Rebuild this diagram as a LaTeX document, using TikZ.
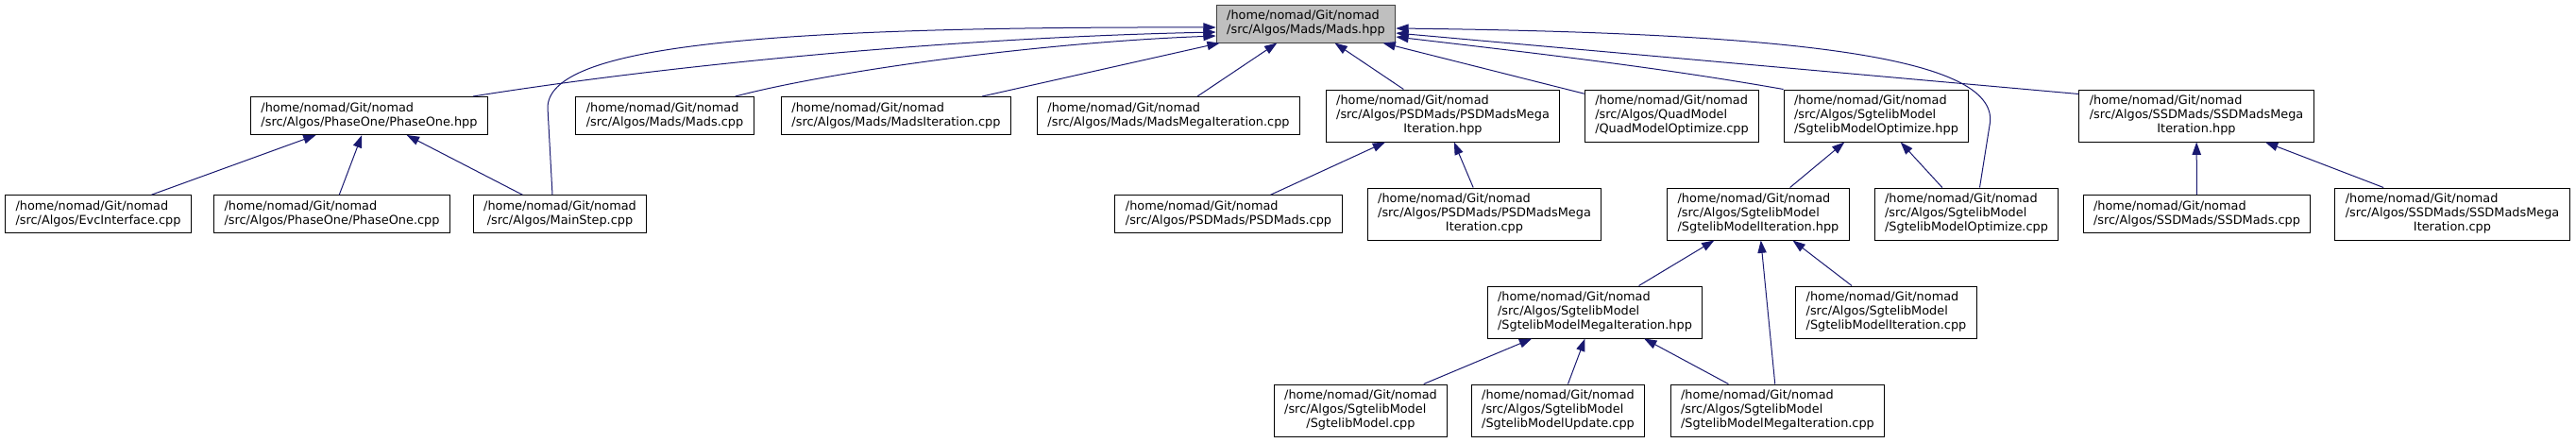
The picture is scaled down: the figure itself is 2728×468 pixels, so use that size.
\documentclass[tikz,border=0pt]{standalone}
\usepackage{fontspec}
\setmainfont{DejaVu Sans}
\usepackage{xcolor}
\usepackage{tikz}
\usetikzlibrary{arrows.meta,calc}
\definecolor{edgeblue}{HTML}{191970}
\definecolor{focusfill}{HTML}{BFBFBF}
\definecolor{focusline}{HTML}{404040}
% lines left, last line centred, as in the include graph
\newcommand{\flabel}[2]{\begin{tabular}{@{}l@{}}#1\\\multicolumn{1}{@{}c@{}}{#2}\end{tabular}}
\tikzset{
  file/.style={draw=black,fill=white,line width=0.75pt,rectangle,inner xsep=8.25pt,inner ysep=3.75pt,
    font=\fontsize{9.65}{11.25}\selectfont},
  focus/.style={file,draw=focusline,fill=focusfill},
  dep/.style={-{Triangle[length=10pt,width=7pt]},edgeblue,line width=0.75pt},
}
\begin{document}
\begin{tikzpicture}[x=0.75pt,y=-0.75pt]
\useasboundingbox (0,0) rectangle (2728,468);
\node[focus] (madshpp) at (1383,25) {\flabel{/home/nomad/Git/nomad}{/src/Algos/Mads/Mads.hpp}};
\node[file] (phaseonehpp) at (391,122.5) {\flabel{/home/nomad/Git/nomad}{/src/Algos/PhaseOne/PhaseOne.hpp}};
\node[file] (madscpp) at (704,122.5) {\flabel{/home/nomad/Git/nomad}{/src/Algos/Mads/Mads.cpp}};
\node[file] (madsitercpp) at (949,122.5) {\flabel{/home/nomad/Git/nomad}{/src/Algos/Mads/MadsIteration.cpp}};
\node[file] (madsmegaitercpp) at (1237.5,122.5) {\flabel{/home/nomad/Git/nomad}{/src/Algos/Mads/MadsMegaIteration.cpp}};
\node[file] (psdmegahpp) at (1528,122.5) {\flabel{/home/nomad/Git/nomad\\/src/Algos/PSDMads/PSDMadsMega}{Iteration.hpp}};
\node[file] (quadoptcpp) at (1770.5,122.5) {\flabel{/home/nomad/Git/nomad\\/src/Algos/QuadModel}{/QuadModelOptimize.cpp}};
\node[file] (sgtoptimizehpp) at (1987,122.5) {\flabel{/home/nomad/Git/nomad\\/src/Algos/SgtelibModel}{/SgtelibModelOptimize.hpp}};
\node[file] (ssdmegahpp) at (2326,122.5) {\flabel{/home/nomad/Git/nomad\\/src/Algos/SSDMads/SSDMadsMega}{Iteration.hpp}};
\node[file] (evccpp) at (104,226.7) {\flabel{/home/nomad/Git/nomad}{/src/Algos/EvcInterface.cpp}};
\node[file] (phaseonecpp) at (351.5,226.7) {\flabel{/home/nomad/Git/nomad}{/src/Algos/PhaseOne/PhaseOne.cpp}};
\node[file] (mainstepcpp) at (593,226.7) {\flabel{/home/nomad/Git/nomad}{/src/Algos/MainStep.cpp}};
\node[file] (psdmadscpp) at (1301,226.7) {\flabel{/home/nomad/Git/nomad}{/src/Algos/PSDMads/PSDMads.cpp}};
\node[file] (psdmegacpp) at (1572,226.5) {\flabel{/home/nomad/Git/nomad\\/src/Algos/PSDMads/PSDMadsMega}{Iteration.cpp}};
\node[file] (sgtiterhpp) at (1862,226.5) {\flabel{/home/nomad/Git/nomad\\/src/Algos/SgtelibModel}{/SgtelibModelIteration.hpp}};
\node[file] (sgtoptimizecpp) at (2082.5,226.5) {\flabel{/home/nomad/Git/nomad\\/src/Algos/SgtelibModel}{/SgtelibModelOptimize.cpp}};
\node[file] (ssdmadscpp) at (2326.5,226.7) {\flabel{/home/nomad/Git/nomad}{/src/Algos/SSDMads/SSDMads.cpp}};
\node[file] (ssdmegacpp) at (2597,226.5) {\flabel{/home/nomad/Git/nomad\\/src/Algos/SSDMads/SSDMadsMega}{Iteration.cpp}};
\node[file] (sgtmegahpp) at (1689,330.5) {\flabel{/home/nomad/Git/nomad\\/src/Algos/SgtelibModel}{/SgtelibModelMegaIteration.hpp}};
\node[file] (sgtitercpp) at (1997.5,330.5) {\flabel{/home/nomad/Git/nomad\\/src/Algos/SgtelibModel}{/SgtelibModelIteration.cpp}};
\node[file] (sgtmodelcpp) at (1441,434.5) {\flabel{/home/nomad/Git/nomad\\/src/Algos/SgtelibModel}{/SgtelibModel.cpp}};
\node[file] (sgtupdatecpp) at (1650,434.5) {\flabel{/home/nomad/Git/nomad\\/src/Algos/SgtelibModel}{/SgtelibModelUpdate.cpp}};
\node[file] (sgtmegacpp) at (1882.5,434.5) {\flabel{/home/nomad/Git/nomad\\/src/Algos/SgtelibModel}{/SgtelibModelMegaIteration.cpp}};
% edges into Mads.hpp
\draw[dep] ($(phaseonehpp.north east)+(-16,0)$) .. controls +(200,-32) and +(-287,6) .. ($(madshpp.west)+(0,9)$);
\draw[dep] ($(mainstepcpp.north)+(-8,0)$) -- ++(-5,-92) .. controls +(0,-65) and +(-487,-1) .. ($(madshpp.west)+(0,4)$);
\draw[dep] ($(madscpp.north east)+(-20,0)$) .. controls +(103,-27) and +(-187,7) .. ($(madshpp.west)+(0,13)$);
\draw[dep] (madsitercpp) -- (madshpp);
\draw[dep] (madsmegaitercpp) -- (madshpp);
\draw[dep] (psdmegahpp) -- (madshpp);
\draw[dep] (quadoptcpp) -- (madshpp);
\draw[dep] (sgtoptimizehpp.north west) .. controls +(-136,-24) and +(136,16) .. ($(madshpp.east)+(0,14)$);
\draw[dep] ($(ssdmegahpp.north west)+(0,5)$) -- ($(madshpp.east)+(0,10)$);
\draw[dep] ($(sgtoptimizecpp.north)+(14,0)$) -- ++(11,-69) .. controls +(7,-70) and +(418,5) .. ($(madshpp.east)+(0,5)$);
% second level
\draw[dep] (evccpp) -- (phaseonehpp);
\draw[dep] (phaseonecpp) -- (phaseonehpp);
\draw[dep] (mainstepcpp) -- (phaseonehpp);
\draw[dep] (psdmadscpp) -- (psdmegahpp);
\draw[dep] (psdmegacpp) -- (psdmegahpp);
\draw[dep] (sgtiterhpp) -- (sgtoptimizehpp);
\draw[dep] (sgtoptimizecpp) -- (sgtoptimizehpp);
\draw[dep] (ssdmadscpp) -- (ssdmegahpp);
\draw[dep] (ssdmegacpp) -- (ssdmegahpp);
% sgtelib iteration chain
\draw[dep] (sgtmegahpp) -- (sgtiterhpp);
\draw[dep] (sgtmegacpp) -- (sgtiterhpp);
\draw[dep] (sgtitercpp) -- (sgtiterhpp);
\draw[dep] (sgtmodelcpp) -- (sgtmegahpp);
\draw[dep] (sgtupdatecpp) -- (sgtmegahpp);
\draw[dep] (sgtmegacpp) -- (sgtmegahpp);
\end{tikzpicture}
\end{document}
